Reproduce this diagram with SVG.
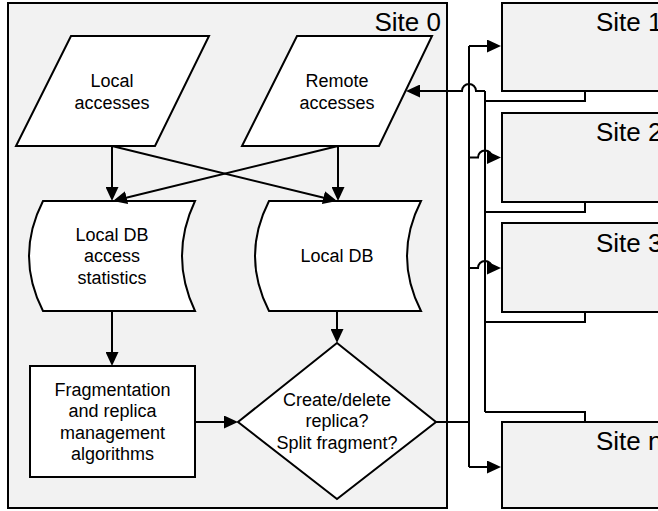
<svg xmlns="http://www.w3.org/2000/svg" width="658" height="511" viewBox="0 0 658 511">
<style>
.site{fill:#f2f2f2;stroke:#000;stroke-width:2}
.shape{fill:#fff;stroke:#000;stroke-width:2;stroke-linejoin:miter}
.t{font-family:"Liberation Sans",Arial,sans-serif;font-size:18px;fill:#000;text-anchor:middle}
.st{font-family:"Liberation Sans",Arial,sans-serif;font-size:26px;fill:#000}
.c{fill:none;stroke:#000;stroke-width:2}
</style>
<defs>
<marker id="ah" markerUnits="userSpaceOnUse" markerWidth="14" markerHeight="13" refX="11" refY="6.5" orient="auto">
<path d="M0,0 L14,6.5 L0,13 Z" fill="#000"/>
</marker>
</defs>
<g id="site0">
<rect class="site" x="8" y="3" width="439" height="505"/>
<text class="st" x="441" y="31" text-anchor="end">Site 0</text>
</g>
<g id="site1">
<rect class="site" x="502" y="3" width="180" height="88"/>
<text class="st" x="596" y="31">Site 1</text>
</g>
<g id="site2">
<rect class="site" x="502" y="113" width="180" height="89"/>
<text class="st" x="596" y="141">Site 2</text>
</g>
<g id="site3">
<rect class="site" x="502" y="223" width="180" height="89"/>
<text class="st" x="596" y="252">Site 3</text>
</g>
<g id="siten">
<rect class="site" x="502" y="422" width="180" height="86"/>
<text class="st" x="596" y="450">Site n</text>
</g>
<g id="local-accesses">
<polygon class="shape" points="71,36 209,36 155,146 16,146"/>
<text class="t" x="112" y="87">Local</text>
<text class="t" x="112" y="108.5">accesses</text>
</g>
<g id="remote-accesses">
<polygon class="shape" points="297,36 432,36 379,146 242,146"/>
<text class="t" x="337" y="87">Remote</text>
<text class="t" x="337" y="108.5">accesses</text>
</g>
<g id="stats">
<path class="shape" d="M43,201 L195,201 Q169,256 195,311 L43,311 Q15,256 43,201 Z"/>
<text class="t" x="112" y="240.5">Local DB</text>
<text class="t" x="112" y="262">access</text>
<text class="t" x="112" y="283.5">statistics</text>
</g>
<g id="localdb">
<path class="shape" d="M269,201 L421,201 Q393,256 421,311 L269,311 Q241,256 269,201 Z"/>
<text class="t" x="337" y="262">Local DB</text>
</g>
<g id="algorithms">
<rect class="shape" x="30" y="366" width="165" height="111"/>
<text class="t" x="112.5" y="395.5">Fragmentation</text>
<text class="t" x="112.5" y="417">and replica</text>
<text class="t" x="112.5" y="438.5">management</text>
<text class="t" x="112.5" y="460">algorithms</text>
</g>
<g id="decision">
<polygon class="shape" points="337,343 436,422 337,499 238,422"/>
<text class="t" x="337" y="405.5">Create/delete</text>
<text class="t" x="337" y="427">replica?</text>
<text class="t" x="337" y="448.5">Split fragment?</text>
</g>
<g id="connectors">
<path class="c" d="M112,146 V198" marker-end="url(#ah)"/>
<path class="c" d="M338,146 V198" marker-end="url(#ah)"/>
<path class="c" d="M112,146 L334.1,200.3" marker-end="url(#ah)"/>
<path class="c" d="M338,146 L115.9,200.3" marker-end="url(#ah)"/>
<path class="c" d="M112,311 V363" marker-end="url(#ah)"/>
<path class="c" d="M337,311 V340" marker-end="url(#ah)"/>
<path class="c" d="M195,422 H235" marker-end="url(#ah)"/>
<path class="c" d="M436,422 H469"/>
<path class="c" d="M469,46 V467"/>
<path class="c" d="M469,46 H498" marker-end="url(#ah)"/>
<path class="c" d="M469,157.5 H478 A7,7 0 0 1 492,157.5 H498" marker-end="url(#ah)"/>
<path class="c" d="M469,268 H478 A7,7 0 0 1 492,268 H498" marker-end="url(#ah)"/>
<path class="c" d="M469,467 H498" marker-end="url(#ah)"/>
<path class="c" d="M485,91 H476 A7,7 0 0 0 462,91 H409" marker-end="url(#ah)"/>
<path class="c" d="M485,91 V412"/>
<path class="c" d="M585,91 V101 H485"/>
<path class="c" d="M585,202 V212 H485"/>
<path class="c" d="M585,312 V322 H485"/>
<path class="c" d="M585,422 V412 H485"/>
</g>
</svg>
